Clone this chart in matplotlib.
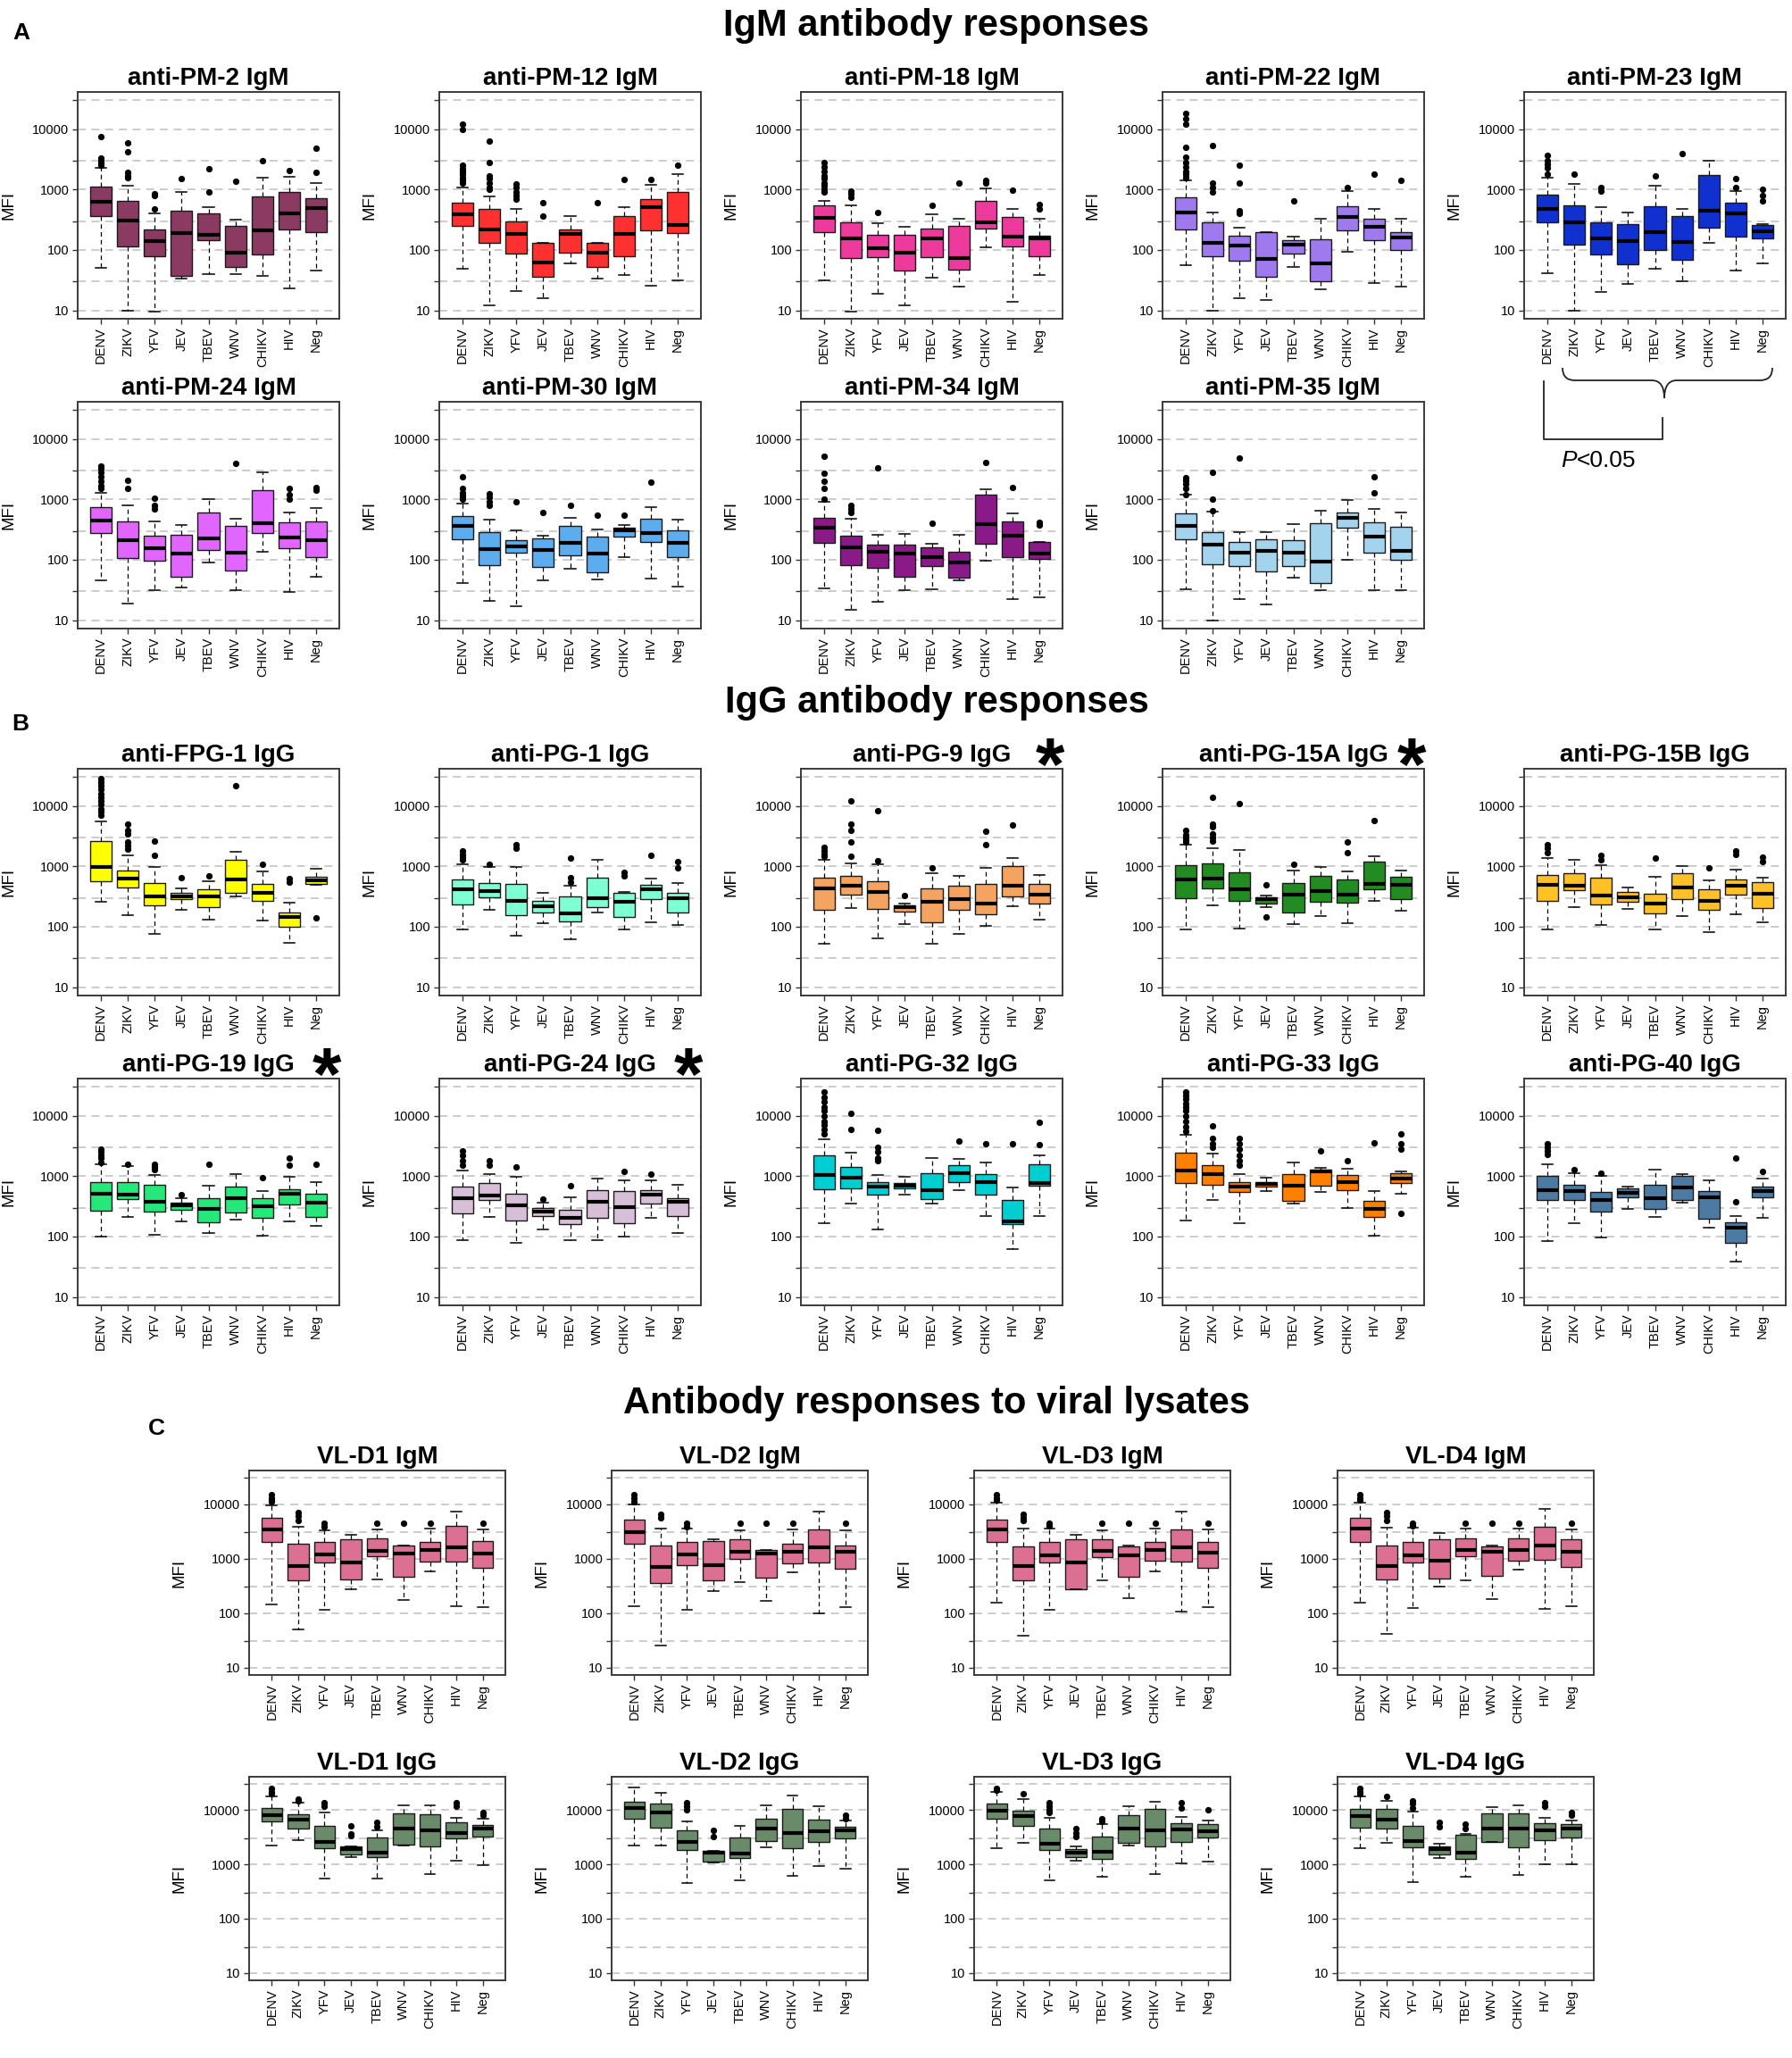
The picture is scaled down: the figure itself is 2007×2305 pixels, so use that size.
import matplotlib
matplotlib.use("Agg")
import matplotlib.pyplot as plt
from matplotlib.ticker import NullLocator, FixedLocator, FixedFormatter
from matplotlib.path import Path
from matplotlib.patches import PathPatch

plt.rcParams['font.family'] = ['Liberation Sans', 'DejaVu Sans']

GROUPS = ["DENV", "ZIKV", "YFV", "JEV", "TBEV", "WNV", "CHIKV", "HIV", "Neg"]
GRID_VALUES = [10, 30, 100, 300, 1000, 3000, 10000, 30000]
TICK_LABELS = ["10", "", "100", "", "1000", "", "10000", ""]

# each row: [lower whisker, Q1, median, Q3, upper whisker]
PM2 = [[50, 360, 630, 1130, 2260], [10, 115, 310, 650, 1150], [9.5, 80, 140, 220, 400],
       [34, 37, 190, 450, 900], [40, 145, 180, 410, 520], [40, 52, 90, 250, 320],
       [37, 85, 210, 780, 1550], [23, 220, 400, 920, 1650], [46, 200, 500, 730, 1300]]
PM2_OUT = [[7600, 3300, 3000, 2700, 2500], [6000, 4200, 1900, 1700, 1600], [850, 800, 480], [1500],
           [2200, 900], [1350], [3000], [2100], [4900, 1900]]

PM12 = [[49, 248, 390, 610, 1100], [12, 133, 221, 473, 770], [21, 87, 182, 294, 473],
        [16, 36, 62, 133, 133], [59, 91, 182, 216, 365], [34, 52, 89, 133, 133],
        [38, 80, 182, 365, 520], [26, 210, 520, 700, 1200], [31, 190, 262, 910, 1800]]
PM12_OUT = [[12000, 10000, 2500, 2200, 2000, 1800, 1600, 1400, 1300], [6300, 2800, 1700, 1500, 1300, 1100, 1000],
            [1250, 1100, 900, 800, 700], [600, 370], [], [610], [1450], [1450], [2500]]

PM18 = [[31, 200, 340, 555, 650], [9.5, 74, 155, 290, 555], [19, 77, 108, 180, 275],
        [12, 46, 90, 176, 240], [35, 77, 154, 224, 390], [25, 48, 74, 250, 330],
        [112, 227, 283, 640, 1030], [14, 115, 165, 350, 480], [39, 78, 155, 174, 330]]
PM18_OUT = [[2800, 2400, 2000, 1700, 1500, 1300, 1150, 1000, 900], [960, 850, 750], [420], [], [550],
            [1300], [1400, 1300], [980], [560, 480]]

PM22 = [[56, 215, 420, 736, 1400], [10, 79, 131, 290, 415], [16, 66, 120, 170, 235],
        [15, 36, 70, 200, 200], [52, 87, 124, 144, 165], [22, 30, 59, 152, 330],
        [93, 212, 355, 535, 945], [28, 144, 245, 330, 470], [25, 100, 160, 195, 330]]
PM22_OUT = [[18000, 15000, 12000, 5000, 3500, 2800, 2400, 2000, 1800, 1600], [5300, 1300, 1100, 900],
            [2500, 1300, 450, 400], [], [650], [], [1100], [1800], [1400]]

PM23 = [[41, 285, 480, 820, 1600], [10, 124, 285, 555, 1220], [20, 85, 155, 285, 520],
        [27, 58, 138, 270, 415], [49, 100, 200, 535, 1170], [30, 69, 134, 360, 480],
        [130, 237, 445, 1730, 2960], [46, 165, 410, 610, 950], [59, 155, 205, 255, 270]]
PM23_OUT = [[3700, 3000, 2600, 2300, 1800], [1800], [1100, 950], [], [1700], [3900], [], [1500, 1100],
            [1000, 800, 650]]

PM24 = [[45, 277, 450, 754, 1300], [19, 108, 209, 436, 810], [31, 98, 157, 247, 430],
        [35, 52, 128, 262, 380], [89, 144, 225, 600, 1000], [31, 67, 133, 370, 480],
        [137, 277, 405, 1440, 2760], [29, 157, 234, 422, 600], [52, 112, 209, 436, 730]]
PM24_OUT = [[3600, 3200, 2800, 2400, 2000, 1700, 1500], [2100, 1500], [1050, 800, 700], [], [], [4000], [],
            [1500, 1200, 1000], [1600, 1400]]

PM30 = [[41, 221, 370, 536, 845], [21, 81, 149, 286, 464], [17, 130, 167, 214, 303],
        [46, 77, 145, 229, 253], [70, 118, 191, 360, 500], [48, 61, 128, 239, 317],
        [109, 239, 303, 338, 382], [49, 197, 277, 480, 745], [36, 112, 191, 303, 463]]
PM30_OUT = [[2400, 1500, 1300, 1200, 1100, 1000], [1250, 1100, 900, 800], [900], [600], [790], [540], [540],
            [1900], []]

PM34 = [[34, 191, 338, 490, 910], [15, 82, 160, 247, 480], [20, 73, 137, 180, 263],
        [31, 52, 125, 176, 270], [33, 80, 112, 160, 187], [45, 51, 91, 137, 263],
        [98, 187, 390, 1180, 1470], [22, 110, 247, 436, 580], [24, 103, 128, 197, 200]]
PM34_OUT = [[5100, 2700, 2000, 1500, 1000], [800, 700, 600], [3300], [], [400], [], [4100], [1550], [420, 380]]

PM35 = [[32, 217, 365, 590, 1180], [10, 85, 179, 288, 630], [22, 80, 131, 196, 282],
        [18, 64, 139, 217, 282], [51, 80, 131, 208, 387], [31, 41, 93, 397, 640],
        [100, 345, 488, 613, 990], [31, 130, 238, 420, 686], [31, 100, 142, 355, 605]]
PM35_OUT = [[2300, 2100, 1800, 1500, 1200], [2800, 1000, 650], [4900], [], [], [], [], [2400, 1300], []]

FPG1 = [[257, 560, 990, 2580, 5500], [154, 452, 630, 865, 1520], [75, 226, 322, 535, 965],
        [190, 284, 317, 370, 427], [133, 214, 317, 422, 565], [317, 362, 615, 1290, 1740],
        [125, 268, 370, 505, 835], [55, 100, 144, 170, 248], [490, 520, 590, 665, 910]]
FPG1_OUT = [[28000, 25000, 22000, 19000, 16000, 14000, 12000, 10500, 9000, 8000, 7000],
            [5000, 4000, 3500, 2500, 2200, 1900], [2600, 1500], [650], [700], [22000], [1100], [630, 550], [140]]

PG1 = [[91, 234, 415, 615, 1100], [190, 310, 390, 530, 965], [71, 155, 268, 505, 965],
       [114, 172, 216, 270, 360], [62, 123, 167, 315, 473], [172, 214, 300, 650, 1290],
       [89, 144, 258, 360, 382], [118, 284, 415, 490, 627], [106, 172, 300, 360, 535]]
PG1_OUT = [[1800, 1600, 1400, 1300], [1100], [2300, 2000], [], [1350, 650, 550], [], [800, 700], [1500],
           [1200, 950]]

PG9 = [[52, 193, 427, 650, 1290], [204, 340, 473, 705, 1120], [65, 197, 375, 565, 1100],
       [109, 180, 209, 226, 240], [52, 118, 262, 427, 770], [75, 193, 287, 480, 705],
       [102, 163, 241, 505, 935], [221, 322, 473, 1000, 1360], [130, 241, 340, 505, 730]]
PG9_OUT = [[2100, 1800, 1600, 1450], [12000, 5000, 3900, 2500, 1450], [8400, 1250], [330], [950], [],
           [3800, 2300], [4900], []]

PG15A = [[89, 295, 615, 1050, 2260], [229, 435, 630, 1120, 2000], [92, 270, 412, 795, 1850],
         [209, 239, 284, 304, 330], [112, 172, 340, 530, 840], [152, 262, 390, 705, 965],
         [116, 247, 340, 615, 815], [268, 412, 520, 1210, 1470], [183, 284, 500, 665, 865]]
PG15A_OUT = [[4000, 3300, 3000, 2700, 2500], [14000, 5000, 4500, 3500, 3000, 2600], [11000], [500, 145],
             [1100], [], [2500, 1700], [5800], []]

PG15B = [[89, 268, 490, 710, 1380], [209, 400, 473, 770, 1300], [106, 234, 330, 640, 1050],
         [197, 262, 310, 375, 452], [89, 167, 241, 355, 670], [148, 287, 447, 770, 1000],
         [82, 193, 270, 412, 580], [163, 345, 473, 600, 890], [118, 204, 355, 545, 650]]
PG15B_OUT = [[2300, 2000, 1700], [], [1500, 1300], [], [1350], [], [950], [1800, 1600], [1400, 1200]]

PG19 = [[99, 268, 520, 810, 1550], [209, 422, 500, 810, 1450], [108, 259, 378, 720, 1050],
        [181, 274, 330, 364, 432], [114, 174, 290, 432, 690], [190, 253, 432, 680, 1070],
        [102, 201, 317, 435, 570], [177, 337, 513, 615, 970], [148, 214, 368, 520, 790]]
PG19_OUT = [[2800, 2500, 2200, 2000, 1700], [1600], [1600, 1400, 1300], [500], [1600], [], [940],
            [2000, 1500], [1600]]

PG24 = [[86, 245, 435, 665, 1240], [209, 397, 485, 760, 1100], [80, 184, 325, 515, 990],
        [133, 218, 260, 294, 364], [88, 161, 207, 274, 445], [86, 201, 378, 590, 905],
        [99, 164, 310, 570, 865], [201, 347, 500, 580, 865], [114, 218, 378, 435, 730]]
PG24_OUT = [[2600, 2200, 1800, 1500], [1800, 1500], [1400], [420], [700], [], [1200], [1100], []]

PG32 = [[165, 610, 1040, 2180, 4100], [350, 630, 935, 1420, 2460], [133, 490, 680, 800, 1040],
        [490, 630, 690, 760, 990], [357, 412, 580, 1120, 2000], [580, 810, 1120, 1500, 1950],
        [218, 500, 790, 1100, 1660], [61, 161, 177, 410, 650], [221, 690, 770, 1560, 2180]]
PG32_OUT = [[25000, 20000, 17000, 14000, 12000, 10000, 8000, 7000, 6000, 5000], [11000, 6000],
            [5800, 3000, 2500, 2000, 1800], [], [], [3800], [3400], [3400], [7800, 3300]]

PG33 = [[187, 760, 1230, 2460, 4800], [400, 730, 1080, 1500, 2400], [165, 550, 680, 790, 1080],
        [560, 665, 740, 800, 935], [357, 385, 700, 1100, 1700], [550, 700, 1210, 1300, 1380],
        [300, 590, 810, 1040, 1320], [105, 214, 285, 390, 570], [520, 775, 910, 1120, 1200]]
PG33_OUT = [[25000, 22000, 19000, 16000, 14000, 12000, 10000, 8000, 6500, 5500], [6800, 4200, 3500, 3000],
            [4200, 3500, 2800, 2200, 1800, 1500], [], [], [2600], [1800], [3600], [5000, 3400, 2800, 240]]

PG40 = [[85, 400, 580, 1000, 1600], [165, 410, 560, 720, 1120], [95, 260, 400, 540, 1000],
        [290, 445, 530, 630, 680], [210, 285, 425, 730, 1300], [360, 410, 640, 1000, 1070],
        [140, 195, 445, 560, 850], [39, 79, 141, 174, 221], [201, 450, 570, 680, 900]]
PG40_OUT = [[3500, 3000, 2600, 2300], [1270], [1130], [], [], [], [], [2000, 380], [1200]]

VLD1M = [[146, 2030, 3480, 5500, 9600], [50, 390, 740, 1860, 3900], [113, 835, 1180, 2000, 3240],
         [268, 407, 860, 2240, 2720], [415, 1100, 1380, 2360, 3480], [173, 455, 1230, 1720, 1750],
         [590, 890, 1420, 2030, 3580], [134, 890, 1630, 3960, 7400], [126, 675, 1250, 2100, 3400]]
VLD1M_OUT = [[15000, 13000, 12000, 11000], [7000, 6000, 5000], [4500, 3800], [], [4500], [4500], [4500], [],
             [4500]]

VLD2M = [[134, 1860, 3030, 5260, 9800], [25, 358, 710, 1720, 3500], [113, 767, 1180, 2000, 3500],
         [252, 390, 767, 2090, 2250], [367, 975, 1310, 2250, 3240], [166, 445, 1230, 1420, 1450],
         [560, 815, 1310, 1900, 3480], [100, 835, 1580, 3480, 7200], [126, 650, 1310, 1750, 3240]]
VLD2M_OUT = [[15000, 13000, 11000], [6500, 5500], [4500, 3800], [], [4500], [4500], [4500], [], [4500]]

VLD3M = [[152, 2000, 3480, 5260, 10500], [38, 390, 740, 1690, 3500], [113, 835, 1140, 2000, 3500],
         [275, 275, 835, 2240, 2720], [390, 1050, 1380, 2250, 3240], [187, 460, 1140, 1690, 1730],
         [585, 910, 1420, 2030, 3580], [104, 870, 1580, 3480, 7400], [128, 665, 1280, 2030, 3400]]
VLD3M_OUT = [[15000, 13000, 12000], [6500, 5500, 5000], [4500, 4000], [], [4500], [4500], [4500], [], [4500]]

VLD4M = [[152, 2030, 3580, 5500, 10500], [41, 415, 740, 1750, 3700], [122, 855, 1140, 2030, 3700],
         [303, 427, 910, 2240, 2960], [400, 1100, 1440, 2360, 3500], [180, 485, 1310, 1690, 1720],
         [625, 910, 1440, 2360, 3580], [118, 955, 1720, 3800, 8200], [134, 690, 1310, 2250, 3480]]
VLD4M_OUT = [[15000, 13000, 12000], [7000, 6000, 5000], [4500, 4000], [], [4500], [4500], [4500], [], [4500]]

VLD1G = [[2190, 6170, 7960, 10900, 18200], [2800, 4500, 6800, 8300, 13500], [540, 1990, 2620, 5100, 9100],
         [1350, 1540, 1910, 2180, 2180], [550, 1350, 1630, 3080, 4230], [2250, 2300, 4500, 8850, 12400],
         [650, 2180, 4250, 8300, 12400], [1150, 3000, 3730, 6000, 7300], [950, 3300, 4630, 5300, 7000]]
VLD1G_OUT = [[25000, 22000, 20000], [16000, 15000], [14000, 12000], [5200, 3700, 3400], [6000, 5000], [], [],
             [14000, 12000], [9000, 8000]]

VLD2G = [[2190, 7050, 10900, 14400, 25900], [2250, 4800, 9100, 13300, 20500], [460, 1870, 2560, 4250, 6300],
         [1100, 1120, 1630, 1790, 1790], [510, 1320, 1580, 3080, 5100], [2100, 2720, 4500, 7050, 12400],
         [610, 1990, 3730, 10500, 18800], [930, 2560, 4100, 6800, 12000], [840, 2970, 4250, 4900, 6400]]
VLD2G_OUT = [[], [], [14000, 12000, 10000], [4300, 3200], [], [], [], [], [8000, 7000]]

VLD3G = [[1990, 6850, 9600, 13300, 21800], [2450, 5100, 7750, 9800, 15900], [510, 1870, 2400, 4500, 7200],
         [1150, 1380, 1630, 1910, 2180], [590, 1260, 1740, 3300, 5500], [2250, 2450, 4500, 8200, 11700],
         [660, 2180, 4250, 10500, 14100], [1050, 2560, 4350, 5800, 7500], [1110, 3160, 4100, 5500, 6400]]
VLD3G_OUT = [[25000, 23000], [20000], [14000, 12000, 10000, 9000], [4600, 3800, 3300], [7000, 6200], [], [],
             [14000, 11000], [10000]]

VLD4G = [[1990, 4800, 7650, 10500, 18200], [2500, 4500, 6650, 10500, 15000], [475, 2050, 2650, 5100, 9300],
         [1320, 1540, 1910, 2180, 2380], [580, 1260, 1630, 3500, 3700], [2560, 2620, 4500, 8850, 11300],
         [635, 2100, 4500, 8850, 12400], [1020, 2820, 4250, 5800, 7200], [1020, 3080, 4500, 5500, 6400]]
VLD4G_OUT = [[25000, 22000, 20000], [18000], [15000, 13000, 11000], [6000, 5000], [5500, 4500], [], [],
             [14000, 12000], [9000, 8000]]

PANEL_TITLES = ["anti-PM-2 IgM", "anti-PM-12 IgM", "anti-PM-18 IgM", "anti-PM-22 IgM", "anti-PM-23 IgM",
                "anti-PM-24 IgM", "anti-PM-30 IgM", "anti-PM-34 IgM", "anti-PM-35 IgM",
                "anti-FPG-1 IgG", "anti-PG-1 IgG", "anti-PG-9 IgG", "anti-PG-15A IgG", "anti-PG-15B IgG",
                "anti-PG-19 IgG", "anti-PG-24 IgG", "anti-PG-32 IgG", "anti-PG-33 IgG", "anti-PG-40 IgG",
                "VL-D1 IgM", "VL-D2 IgM", "VL-D3 IgM", "VL-D4 IgM",
                "VL-D1 IgG", "VL-D2 IgG", "VL-D3 IgG", "VL-D4 IgG"]
PANEL_STATS = [PM2, PM12, PM18, PM22, PM23, PM24, PM30, PM34, PM35,
               FPG1, PG1, PG9, PG15A, PG15B, PG19, PG24, PG32, PG33, PG40,
               VLD1M, VLD2M, VLD3M, VLD4M, VLD1G, VLD2G, VLD3G, VLD4G]
PANEL_OUT = [PM2_OUT, PM12_OUT, PM18_OUT, PM22_OUT, PM23_OUT, PM24_OUT, PM30_OUT, PM34_OUT, PM35_OUT,
             FPG1_OUT, PG1_OUT, PG9_OUT, PG15A_OUT, PG15B_OUT, PG19_OUT, PG24_OUT, PG32_OUT, PG33_OUT, PG40_OUT,
             VLD1M_OUT, VLD2M_OUT, VLD3M_OUT, VLD4M_OUT, VLD1G_OUT, VLD2G_OUT, VLD3G_OUT, VLD4G_OUT]
PANEL_COLORS = ["#8B3A62", "#FF3030", "#EE3A9C", "#9F79EE", "#1030D0",
                "#E066FF", "#5CACEE", "#8B1A89", "#A4D3EE",
                "#FFFF00", "#7FFFD4", "#F4A460", "#228B22", "#FFC125",
                "#26E87A", "#D8BFD8", "#00CED1", "#FF7F00", "#4D7AA2",
                "#DB7093", "#DB7093", "#DB7093", "#DB7093",
                "#698B69", "#698B69", "#698B69", "#698B69"]
STARRED = ["anti-PG-9 IgG", "anti-PG-15A IgG", "anti-PG-19 IgG", "anti-PG-24 IgG"]

# ---------------- layout (pixels) ----------------
W, H = 2008, 2305
fig = plt.figure(figsize=(W / 100, H / 100), dpi=100)

ov = fig.add_axes([0, 0, 1, 1])
ov.set_xlim(0, W)
ov.set_ylim(H, 0)
ov.axis("off")

AB_LEFT = [87 + 405 * i for i in range(5)]
C_LEFT = [279, 685, 1091, 1498]
slots = []
for row_top in (103, 450, 861, 1208):
    for lft in AB_LEFT:
        slots.append((lft, row_top, 293, 254))
slots = slots[:9] + slots[10:]  # row A2 has only four panels
for row_top, hgt in ((1647, 229), (1990, 228)):
    for lft in C_LEFT:
        slots.append((lft, row_top, 287, hgt))

YLO = 10 ** (1 - 0.139)
YHI = 10 ** (4.477 + 0.139)


def draw_panel(slot, title, stats, outs, color):
    lft, top, wid, hgt = slot
    ax = fig.add_axes([lft / W, 1 - (top + hgt) / H, wid / W, hgt / H])
    ax.set_yscale("log")
    for g in GRID_VALUES:
        ax.axhline(g, color="#c8c8c8", lw=1.3, ls=(0, (5, 3.5)), zorder=0.5)
    bx = [dict(whislo=s[0], q1=s[1], med=s[2], q3=s[3], whishi=s[4], fliers=o)
          for s, o in zip(stats, outs)]
    ax.bxp(bx, positions=list(range(1, 10)), widths=0.8, capwidths=0.4, patch_artist=True,
           showfliers=True, manage_ticks=False,
           boxprops=dict(facecolor=color, edgecolor="#1a1a1a", linewidth=1.0),
           medianprops=dict(color="black", linewidth=3.0, solid_capstyle="butt"),
           whiskerprops=dict(color="black", linewidth=0.9, linestyle=(0, (4, 3))),
           capprops=dict(color="black", linewidth=1.1),
           flierprops=dict(marker="o", markerfacecolor="black", markeredgecolor="black",
                           markersize=4.2, linestyle="none"))
    ax.set_ylim(YLO, YHI)
    ax.set_xlim(0.14, 9.86)
    ax.yaxis.set_major_locator(FixedLocator(GRID_VALUES))
    ax.yaxis.set_major_formatter(FixedFormatter(TICK_LABELS))
    ax.yaxis.set_minor_locator(NullLocator())
    ax.set_xticks(range(1, 10))
    ax.set_xticklabels(GROUPS, rotation=90)
    ax.tick_params(axis="both", length=4.5, width=1.0, color="#333333", labelsize=10.5, pad=2.5)
    ax.set_ylabel("MFI", fontsize=13.5)
    ax.yaxis.set_label_coords(-69 / wid, 0.5)
    for sp in ax.spines.values():
        sp.set_linewidth(1.4)
        sp.set_color("#3a3a3a")
    ov.text(lft + wid / 2, top - 8, title, ha="center", va="baseline", fontsize=20, fontweight="bold")
    if title in STARRED:
        ov.text(lft + wid - 14, top - 22 + 46, "*", ha="center", va="baseline", fontsize=60,
                fontweight="bold")
    return ax


for slot, title, st, ou, col in zip(slots, PANEL_TITLES, PANEL_STATS, PANEL_OUT, PANEL_COLORS):
    draw_panel(slot, title, st, ou, col)

# section titles and letters
ov.text(1049, 40, "IgM antibody responses", ha="center", va="baseline", fontsize=30, fontweight="bold")
ov.text(1049, 798, "IgG antibody responses", ha="center", va="baseline", fontsize=30, fontweight="bold")
ov.text(1049, 1583, "Antibody responses to viral lysates", ha="center", va="baseline", fontsize=30,
        fontweight="bold")
ov.text(14, 44, "A", ha="left", va="baseline", fontsize=19, fontweight="bold")
ov.text(13, 818, "B", ha="left", va="baseline", fontsize=19, fontweight="bold")
ov.text(166, 1607, "C", ha="left", va="baseline", fontsize=19, fontweight="bold")

# significance bracket below anti-PM-23 IgM
brace = Path([(1750, 412), (1750, 426), (1764, 426), (1850, 426), (1864, 426), (1864, 446),
              (1864, 426), (1878, 426), (1971, 426), (1985, 426), (1985, 412)],
             [Path.MOVETO, Path.CURVE3, Path.CURVE3, Path.LINETO, Path.CURVE3, Path.CURVE3,
              Path.CURVE3, Path.CURVE3, Path.LINETO, Path.CURVE3, Path.CURVE3])
ov.add_patch(PathPatch(brace, fill=False, edgecolor="#222222", lw=1.3))
ov.plot([1729, 1729, 1862, 1862], [427, 492, 492, 468], color="#222222", lw=1.3)
ov.text(1748, 523, "P", ha="left", va="baseline", fontsize=19, style="italic")
ov.text(1766, 523, "<0.05", ha="left", va="baseline", fontsize=19)

fig.savefig("out.png", dpi=100)
